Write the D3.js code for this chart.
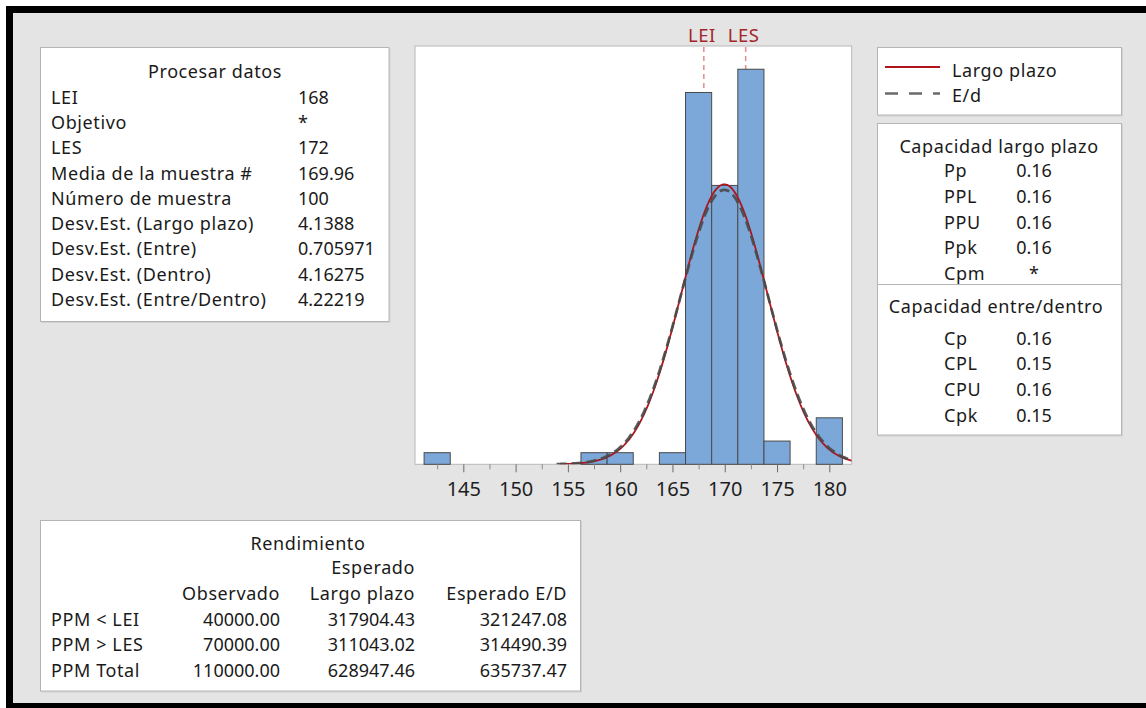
<!DOCTYPE html>
<html>
<head>
<meta charset="utf-8">
<script src="https://cdn.jsdelivr.net/npm/d3@7"></script>
<style>
  body { margin: 0; background: #fff; }
  svg { display: block; }
  text { font-family: "Noto Sans", sans-serif; fill: #1a1a1a; }
</style>
</head>
<body>
<svg id="chart" width="1146" height="708"></svg>
<script>
// ---- Histogram data (bin centres and counts) ----
const binCenters = [142.5, 157.5, 160, 165, 167.5, 170, 172.5, 175, 180];
const binCounts  = [1, 1, 1, 1, 32, 24, 34, 2, 4];
const binWidth = 2.5;

// ---- Axis ticks ----
const xTickValues  = [145, 150, 155, 160, 165, 170, 175, 180];
const xMinorTicks  = [142.5, 147.5, 152.5, 157.5, 162.5, 167.5, 172.5, 177.5];

// ---- Specification limits and fitted distributions ----
const specNames  = ["LEI", "LES"];
const specValues = [168, 172];
const sampleMean = 169.96;
const sampleN = 100;
const sdLongTerm = 4.1388;       // Largo plazo
const sdBetweenWithin = 4.22219; // Entre/Dentro

// ---- Tables ----
const processLabels = ["LEI", "Objetivo", "LES", "Media de la muestra #", "Número de muestra",
  "Desv.Est. (Largo plazo)", "Desv.Est. (Entre)", "Desv.Est. (Dentro)", "Desv.Est. (Entre/Dentro)"];
const processValues = ["168", "*", "172", "169.96", "100", "4.1388", "0.705971", "4.16275", "4.22219"];

const longTermLabels = ["Pp", "PPL", "PPU", "Ppk", "Cpm"];
const longTermValues = ["0.16", "0.16", "0.16", "0.16", "*"];
const betweenWithinLabels = ["Cp", "CPL", "CPU", "Cpk"];
const betweenWithinValues = ["0.16", "0.15", "0.16", "0.15"];

const yieldColumns = ["Observado", "Largo plazo", "Esperado E/D"];
const yieldLabels = ["PPM < LEI", "PPM > LES", "PPM Total"];
const yieldObserved = ["40000.00", "70000.00", "110000.00"];
const yieldLongTerm = ["317904.43", "311043.02", "628947.46"];
const yieldBetweenWithin = ["321247.08", "314490.39", "635737.47"];

const legendNames = ["Largo plazo", "E/d"];

// ---- Drawing ----
const svg = d3.select("#chart");
const FS = 18;
const LS = 0.6;

// page background with dark border on top, left and bottom
svg.append("rect").attr("x", 0).attr("y", 0).attr("width", 1146).attr("height", 708).attr("fill", "#fff");
svg.append("rect").attr("x", 6).attr("y", 6).attr("width", 1140).attr("height", 702).attr("fill", "#000");
svg.append("rect").attr("x", 13).attr("y", 13).attr("width", 1133).attr("height", 690).attr("fill", "#e4e4e4");

function panel(x, y, w, h) {
  svg.append("rect").attr("x", x + 1).attr("y", y + 1).attr("width", w).attr("height", h)
    .attr("fill", "none").attr("stroke", "#d2d2d2").attr("stroke-width", 1);
  svg.append("rect").attr("x", x).attr("y", y).attr("width", w).attr("height", h)
    .attr("fill", "#fff").attr("stroke", "#b4b4b4").attr("stroke-width", 1);
}
function txt(x, y, s, anchor, ls) {
  return svg.append("text").attr("x", x).attr("y", y + 0.5).attr("text-anchor", anchor || "start")
    .attr("font-size", FS).attr("letter-spacing", ls === undefined ? LS : ls).text(s);
}

// ---- Process data panel ----
panel(40.5, 47.5, 348.5, 274);
txt(215, 77, "Procesar datos", "middle");
const procRowY = d3.range(processLabels.length).map(i => 103.3 + i * 25.25);
processLabels.forEach((l, i) => txt(51, procRowY[i], l));
processValues.forEach((v, i) => txt(298, procRowY[i], v, "start", 0));

// ---- Histogram ----
const plot = { left: 415, right: 851.7, top: 46, bottom: 464.3 };
const x = d3.scaleLinear().domain([140.38, 182.14]).range([plot.left, plot.right]);
const y = d3.scaleLinear().domain([0, 36]).range([plot.bottom, plot.top]);

svg.append("rect").attr("x", plot.left).attr("y", plot.top)
  .attr("width", plot.right - plot.left).attr("height", plot.bottom - plot.top)
  .attr("fill", "#fff").attr("stroke", "#b8b8b8").attr("stroke-width", 1);

svg.append("defs").append("clipPath").attr("id", "plotClip").append("rect")
  .attr("x", plot.left).attr("y", plot.top - 1)
  .attr("width", plot.right - plot.left).attr("height", plot.bottom - plot.top + 1);

// specification lines (behind bars)
specValues.forEach((v, i) => {
  svg.append("line").attr("x1", x(v)).attr("x2", x(v)).attr("y1", plot.top + 1).attr("y2", plot.bottom)
    .attr("stroke", "#e8898b").attr("stroke-width", 1.5).attr("stroke-dasharray", "5,4");
  svg.append("text").attr("x", x(v) - 2).attr("y", 41.7).attr("text-anchor", "middle")
    .attr("font-size", 18.5).attr("letter-spacing", 0.5).style("fill", "#a3262b").text(specNames[i]);
});

// bars
svg.append("g").selectAll("rect").data(binCenters).join("rect")
  .attr("x", (d) => x(d - binWidth / 2))
  .attr("width", (d) => x(d + binWidth / 2) - x(d - binWidth / 2))
  .attr("y", (d, i) => y(binCounts[i]))
  .attr("height", (d, i) => y(0) - y(binCounts[i]))
  .attr("fill", "#7ba7d9").attr("stroke", "#4a4a4a").attr("stroke-width", 1);

// fitted normal curves scaled to counts
function normalCurve(sd) {
  const start = sampleMean - 3.8 * sd, end = x.domain()[1];
  const pts = d3.range(start, end, 0.1).concat([end]);
  return pts.map(v => [v, sampleN * binWidth * Math.exp(-0.5 * ((v - sampleMean) / sd) ** 2) / (sd * Math.sqrt(2 * Math.PI))]);
}
const lineGen = d3.line().x(d => x(d[0])).y(d => y(d[1])).curve(d3.curveBasis);
const curves = svg.append("g").attr("clip-path", "url(#plotClip)");
curves.append("path").attr("d", lineGen(normalCurve(sdLongTerm)))
  .attr("fill", "none").attr("stroke", "#b0141c").attr("stroke-width", 1.8);
curves.append("path").attr("d", lineGen(normalCurve(sdBetweenWithin)))
  .attr("fill", "none").attr("stroke", "#4a4a4a").attr("stroke-width", 2.8)
  .attr("stroke-dasharray", "10,5").attr("stroke-opacity", 0.9);

// x axis: major ticks with labels, minor ticks without
const axisMajor = d3.axisBottom(x).tickValues(xTickValues).tickSize(8).tickPadding(10).tickFormat(d3.format("d"));
const gAxis = svg.append("g").attr("transform", `translate(0,${plot.bottom})`).call(axisMajor);
gAxis.select(".domain").remove();
gAxis.selectAll("line").attr("stroke", "#6a6a6a");
gAxis.selectAll("text").attr("font-size", 20).attr("font-family", "Noto Sans").style("fill", "#1e1e1e");

const axisMinor = d3.axisBottom(x).tickValues(xMinorTicks).tickSize(5).tickFormat("");
const gMinor = svg.append("g").attr("transform", `translate(0,${plot.bottom})`).call(axisMinor);
gMinor.select(".domain").remove();
gMinor.selectAll("line").attr("stroke", "#8a8a8a");

// ---- Legend panel ----
panel(877.5, 47.5, 244, 67.5);
svg.append("line").attr("x1", 885).attr("x2", 940).attr("y1", 67).attr("y2", 67)
  .attr("stroke", "#b0141c").attr("stroke-width", 2);
svg.append("line").attr("x1", 885).attr("x2", 940).attr("y1", 93.5).attr("y2", 93.5)
  .attr("stroke", "#6a6a6a").attr("stroke-width", 2.6).attr("stroke-dasharray", "13,11");
txt(952, 76.5, legendNames[0]);
txt(952, 101.7, legendNames[1]);

// ---- Capability panel ----
panel(877.5, 123.5, 244, 311.5);
svg.append("line").attr("x1", 877.5).attr("x2", 1121.5).attr("y1", 284.5).attr("y2", 284.5)
  .attr("stroke", "#b4b4b4").attr("stroke-width", 1);
txt(999, 152.5, "Capacidad largo plazo", "middle");
longTermLabels.forEach((l, i) => {
  const yy = 176.5 + i * 25.75;
  txt(944, yy, l);
  txt(1034, yy, longTermValues[i], "middle", 0);
});
txt(996, 312.5, "Capacidad entre/dentro", "middle");
betweenWithinLabels.forEach((l, i) => {
  const yy = 344 + i * 25.75;
  txt(944, yy, l);
  txt(1034, yy, betweenWithinValues[i], "middle", 0);
});

// ---- Yield panel ----
panel(40.5, 520.5, 540, 170.5);
txt(308, 549, "Rendimiento", "middle");
txt(415, 573.5, "Esperado", "end");
const colRight = [280, 415, 567];
yieldColumns.forEach((c, i) => txt(colRight[i], 599, c, "end"));
yieldLabels.forEach((l, i) => {
  const yy = 625 + i * 25.5;
  txt(51, yy, l);
  txt(colRight[0], yy, yieldObserved[i], "end", 0);
  txt(colRight[1], yy, yieldLongTerm[i], "end", 0);
  txt(colRight[2], yy, yieldBetweenWithin[i], "end", 0);
});
</script>
</body>
</html>
